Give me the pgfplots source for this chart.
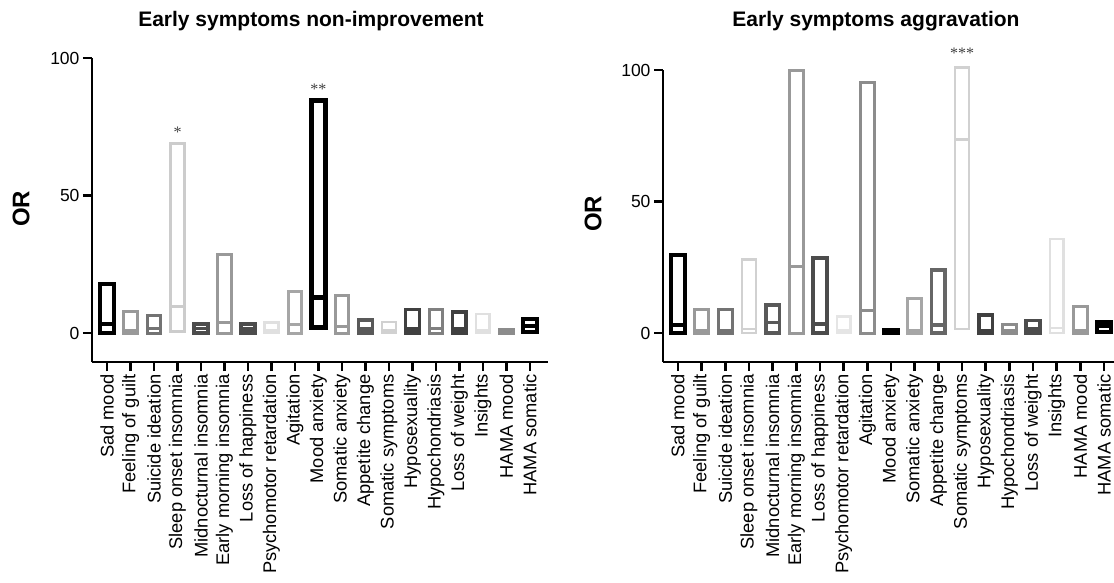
\documentclass[border=0pt]{standalone}
\usepackage{fontspec}
\setmainfont{Liberation Sans}
\newfontfamily\serifast{Liberation Serif}
\usepackage{pgfplots}
\usepackage{pgfplotstable}
\pgfplotsset{compat=1.18}
\usepgfplotslibrary{statistics}

% x = category index, lo/med/hi = box bottom, middle line, top; g = grey level (% black); lw = line width
\pgfplotstableread{
x lo med hi g lw
0 0.2 3.3 17.8 100 4
1 0 1 7.7 40 3
2 0 1.5 6.3 55 3
3 0.5 9.7 69 20 2.5
4 0 1.7 3.3 70 3.5
5 0 3.9 28.7 40 3
6 0 1.5 3.3 70 3.5
7 0 1 3.9 12 2.5
8 0 3 15 35 3
9 2 12.9 84.5 100 4.5
10 0 2.4 13.5 40 3
11 0 1.5 4.7 65 3.5
12 0 1 4.1 18 2.5
13 0 1.5 8.5 75 3.5
14 0 1.5 8.7 50 3
15 0 1.5 7.7 75 3.5
16 0 1 6.9 12 2.5
17 0 0.5 1.2 45 3
18 0.3 2.7 5.1 100 4
}\leftdata

\pgfplotstableread{
x lo med hi g lw
0 0 3 29.5 100 4
1 0 1 8.8 40 3
2 0 1 8.8 55 3
3 0 1.5 28 18 2.5
4 0 4 10.6 65 3.5
5 0 25.4 99.7 40 3
6 0 3.4 28.6 70 3.5
7 0 1 6.3 10 2.5
8 0 8.4 95.3 45 3
9 0 0.6 1.3 100 4
10 0 1 13.1 35 3
11 0 3 23.9 60 3.5
12 1.5 73.5 101 18 2.5
13 0 1 6.8 75 3.5
14 0 1 3.4 45 3
15 0 1.5 4.7 70 3.5
16 0 2 35.8 12 2.5
17 0 1 10 40 3
18 0.3 2.5 4.3 100 4
}\rightdata

\newcommand\getv[3]{\pgfplotstablegetelem{#1}{#2}\of#3\edef\tmpval{\pgfplotsretval}}
\newcommand\xtfont{\fontsize{18.3}{20}\selectfont}
\newcommand\ytfont{\fontsize{17.5}{19}\selectfont}

\pgfplotsset{
  orstyle/.style={
    scale only axis,
    anchor=south west,
    axis lines=left,
    axis line style={-, line width=2.5pt, black},
    clip=false,
    ymax=100,
    ytick={0,50,100},
    xtick={0,...,18},
    tick align=outside,
    major tick length=9pt,
    every tick/.style={line width=2.5pt, black},
    yticklabel style={font=\ytfont, /pgf/number format/assume math mode=true},
    xticklabel style={rotate=90, anchor=east, font=\xtfont},
    xticklabels={Sad mood, Feeling of guilt, Suicide ideation, Sleep onset insomnia, Midnocturnal insomnia, Early morning insomnia, Loss of happiness, Psychomotor retardation, Agitation, Mood anxiety, Somatic anxiety, Appetite change, Somatic symptoms, Hyposexuality, Hypochondriasis, Loss of weight, Insights, HAMA mood, HAMA somatic},
  }
}

\begin{document}
\begin{tikzpicture}
\useasboundingbox (0pt,0pt) rectangle (1114pt,582pt);

% ---------- left panel ----------
\begin{axis}[orstyle, at={(92pt,220pt)}, width=456pt, height=304pt,
  xmin=-0.64, xmax=18.77, ymin=-10.5]
\pgfplotsinvokeforeach{0,...,18}{
  \getv{#1}{g}{\leftdata}\let\gv\tmpval
  \getv{#1}{lw}{\leftdata}\let\lwv\tmpval
  \getv{#1}{lo}{\leftdata}\let\lov\tmpval
  \getv{#1}{med}{\leftdata}\let\medv\tmpval
  \getv{#1}{hi}{\leftdata}\let\hiv\tmpval
  \edef\tmp{\noexpand\addplot[draw=black!\gv, line width=\lwv pt, solid, mark=none,
    boxplot prepared={draw position=#1, draw direction=y, lower whisker=\lov, lower quartile=\lov, median=\medv, upper quartile=\hiv, upper whisker=\hiv, box extend=0.58, whisker extend=0}] coordinates {};}
  \tmp
}
\node[font=\serifast\fontsize{16}{16}\selectfont, text=black!75] at (axis cs:3,73) {*};
\node[font=\serifast\fontsize{16}{16}\selectfont, text=black!75] at (axis cs:9,88.5) {**};
\end{axis}

% ---------- right panel ----------
\begin{axis}[orstyle, at={(663pt,220pt)}, width=451pt, height=292pt,
  xmin=-0.63, xmax=18.42, ymin=-11]
\pgfplotsinvokeforeach{0,...,18}{
  \getv{#1}{g}{\rightdata}\let\gv\tmpval
  \getv{#1}{lw}{\rightdata}\let\lwv\tmpval
  \getv{#1}{lo}{\rightdata}\let\lov\tmpval
  \getv{#1}{med}{\rightdata}\let\medv\tmpval
  \getv{#1}{hi}{\rightdata}\let\hiv\tmpval
  \edef\tmp{\noexpand\addplot[draw=black!\gv, line width=\lwv pt, solid, mark=none,
    boxplot prepared={draw position=#1, draw direction=y, lower whisker=\lov, lower quartile=\lov, median=\medv, upper quartile=\hiv, upper whisker=\hiv, box extend=0.58, whisker extend=0}] coordinates {};}
  \tmp
}
\node[font=\serifast\fontsize{16}{16}\selectfont, text=black!75] at (axis cs:12,106.5) {***};
\end{axis}

% titles and axis labels
\node[font=\bfseries\fontsize{21}{21}\selectfont] at (311pt,561pt) {Early symptoms non-improvement};
\node[font=\bfseries\fontsize{21}{21}\selectfont] at (876pt,561pt) {Early symptoms aggravation};
\node[rotate=90, font=\bfseries\fontsize{24}{24}\selectfont] at (21pt,373pt) {OR};
\node[rotate=90, font=\bfseries\fontsize{24}{24}\selectfont] at (593pt,368pt) {OR};
\end{tikzpicture}
\end{document}
